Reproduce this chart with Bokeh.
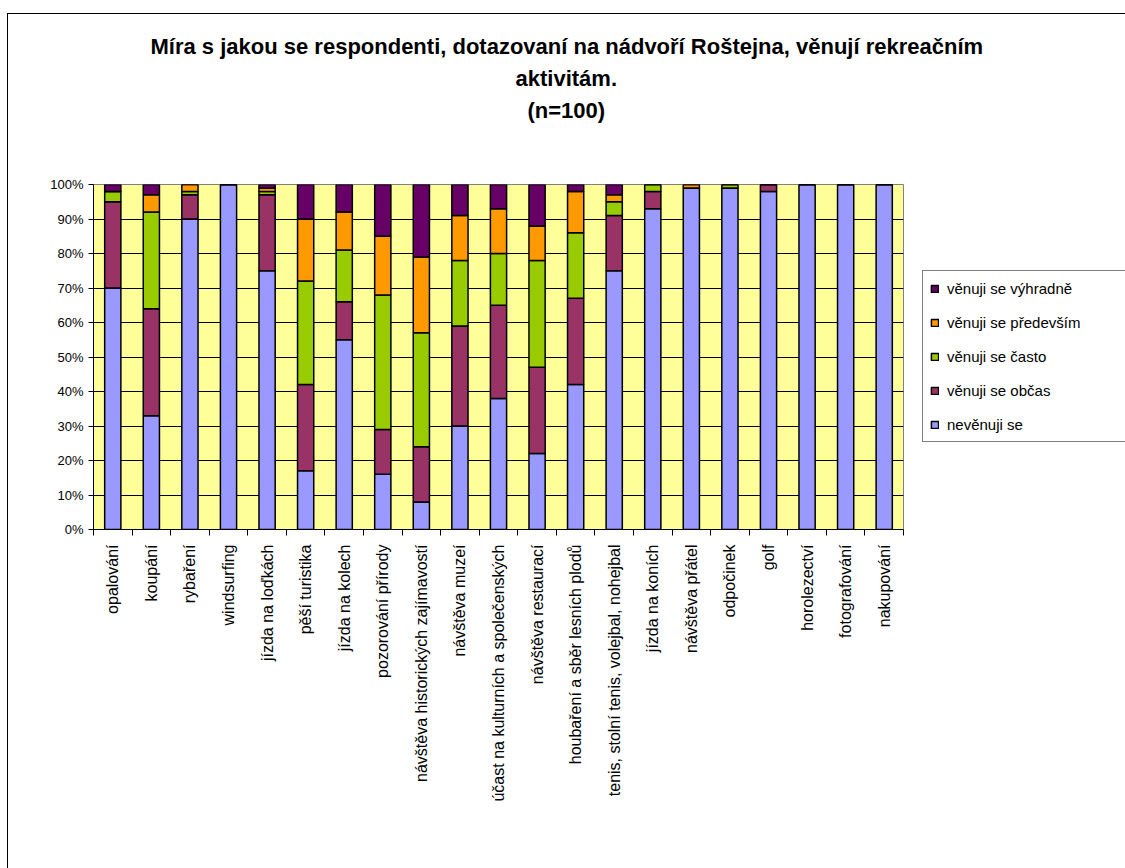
import math
from bokeh.plotting import figure
from bokeh.models import (ColumnDataSource, Range1d, FixedTicker, PrintfTickFormatter,
                          Legend, LegendItem, Title)
from bokeh.embed import file_html
from bokeh.resources import INLINE

categories = ["opalování", "koupání", "rybaření", "windsurfing", "jízda na loďkách",
              "pěší turistika", "jízda na kolech", "pozorování přírody",
              "návštěva historických zajímavostí", "návštěva muzeí",
              "účast na kulturních a společenských", "návštěva restaurací",
              "houbaření a sběr lesních plodů", "tenis, stolní tenis, volejbal, nohejbal",
              "jízda na koních", "návštěva přátel", "odpočinek", "golf",
              "horolezectví", "fotografování", "nakupování"]

nevenuji = [70, 33, 90, 100, 75, 17, 55, 16, 8, 30, 38, 22, 42, 75, 93, 99, 99, 98, 100, 100, 100]
obcas = [25, 31, 7, 0, 22, 25, 11, 13, 16, 29, 27, 25, 25, 16, 5, 0, 0, 2, 0, 0, 0]
casto = [3, 28, 1, 0, 1, 30, 15, 39, 33, 19, 15, 31, 19, 4, 2, 0, 1, 0, 0, 0, 0]
predevsim = [0, 5, 2, 0, 1, 18, 11, 17, 22, 13, 13, 10, 12, 2, 0, 1, 0, 0, 0, 0, 0]
vyhradne = [2, 3, 0, 0, 1, 10, 8, 15, 21, 9, 7, 12, 2, 3, 0, 0, 0, 0, 0, 0, 0]

series_names = ["nevěnuji se", "věnuji se občas", "věnuji se často",
                "věnuji se především", "věnuji se výhradně"]
series_keys = ["nevenuji", "obcas", "casto", "predevsim", "vyhradne"]
colors = ["#9999FF", "#993366", "#99CC00", "#FF9900", "#660066"]

y_ticks = [0, 10, 20, 30, 40, 50, 60, 70, 80, 90, 100]
title_lines = ["Míra s jakou se respondenti, dotazovaní na nádvoří  Roštejna, věnují rekreačním",
               "aktivitám.", "(n=100)"]

n = len(categories)
xs = list(range(1, n + 1))
source = ColumnDataSource(dict(x=xs, nevenuji=nevenuji, obcas=obcas, casto=casto,
                               predevsim=predevsim, vyhradne=vyhradne))

FONT = "Liberation Sans"

p = figure(frame_width=810, frame_height=345,
           min_border_left=85, min_border_right=222, min_border_top=170, min_border_bottom=339,
           x_range=Range1d(0.5, n + 0.5), y_range=Range1d(0, 100),
           output_backend="svg", toolbar_location=None, tools="")
p.styles = {"margin-left": "7px", "margin-top": "13px",
            "border-left": "1px solid black", "border-top": "1px solid black"}

p.background_fill_color = "#FFFF99"
p.border_fill_color = "white"
p.outline_line_color = "#808080"
p.outline_line_width = 1

renderers = p.vbar_stack(series_keys, x="x", width=0.42, source=source,
                         fill_color=colors, line_color="black", line_width=1.5)

# axes
p.xgrid.visible = False
p.ygrid.grid_line_color = "black"
p.ygrid.grid_line_width = 1
p.ygrid.ticker = FixedTicker(ticks=y_ticks, minor_ticks=[])

p.yaxis.ticker = FixedTicker(ticks=y_ticks, minor_ticks=[])
p.yaxis.formatter = PrintfTickFormatter(format="%d%%")
p.yaxis.major_label_text_font = FONT
p.yaxis.major_label_text_font_size = "13px"
p.yaxis.major_label_text_color = "black"
p.yaxis.major_tick_out = 5
p.yaxis.major_tick_in = 0
p.yaxis.major_tick_line_color = "black"
p.yaxis.axis_line_color = "black"
p.yaxis.major_label_standoff = 5

p.xaxis.ticker = FixedTicker(ticks=xs, minor_ticks=[i + 0.5 for i in range(0, n + 1)])
p.xaxis.major_label_overrides = {i + 1: c for i, c in enumerate(categories)}
p.xaxis.major_label_orientation = math.pi / 2
p.xaxis.major_label_text_font = FONT
p.xaxis.major_label_text_font_size = "16px"
p.xaxis.major_label_text_color = "black"
p.xaxis.major_tick_out = 0
p.xaxis.major_tick_in = 0
p.xaxis.minor_tick_out = 6
p.xaxis.minor_tick_in = 0
p.xaxis.minor_tick_line_color = "black"
p.xaxis.axis_line_color = "black"
p.xaxis.major_label_standoff = 9

# titles (added from the frame outward); first one is an empty spacer
p.add_layout(Title(text=" ", text_font_size="10px", standoff=46), "above")
offsets = [57, 422, 434]
for line, off in reversed(list(zip(title_lines, offsets))):
    t = Title(text=line, align="left", offset=off, text_font=FONT,
              text_font_size="22px", text_font_style="bold", text_color="black",
              standoff=5)
    p.add_layout(t, "above")

# legend
items = [LegendItem(label=series_names[k], renderers=[renderers[k]]) for k in range(4, -1, -1)]
legend = Legend(items=items, location=(19, 87), orientation="vertical", margin=0,
                label_text_font=FONT, label_text_font_size="15px", label_text_color="black",
                glyph_width=9, glyph_height=9, label_height=20, spacing=14,
                padding=7, label_standoff=8, label_width=172,
                border_line_color="black", border_line_width=1,
                background_fill_color="white", background_fill_alpha=1.0)
p.add_layout(legend, "right")

open("out.html", "w").write(file_html(p, INLINE))
